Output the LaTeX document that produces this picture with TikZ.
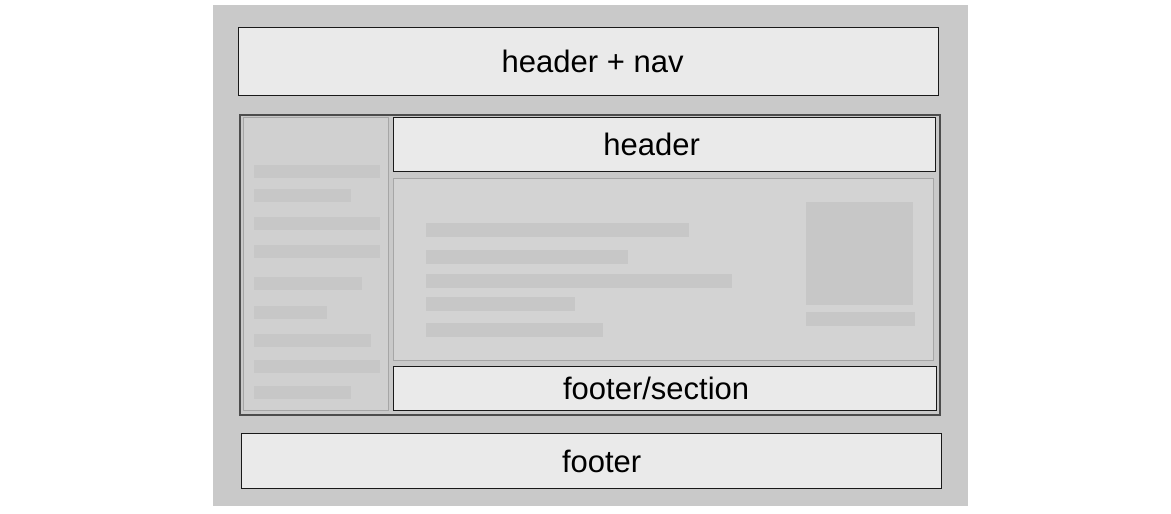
\documentclass[tikz,border=0pt]{standalone}
\usepackage{fontspec}
\setmainfont{Liberation Sans}
\definecolor{pagegray}{HTML}{C9C9C9}
\definecolor{boxgray}{HTML}{EAEAEA}
\definecolor{sidegray}{HTML}{D0D0D0}
\definecolor{maingray}{HTML}{D3D3D3}
\definecolor{bargray}{HTML}{C7C7C7}
\tikzset{
    region/.style={draw=black!90, line width=1.3pt, fill=boxgray, anchor=north west, inner sep=0pt},
    regiontext/.style={font=\fontsize{31}{36}\selectfont, inner sep=0pt},
    panel/.style={draw=black!35, line width=1pt, anchor=north west, inner sep=0pt},
    bar/.style={fill=bargray, draw=none}
}
\begin{document}
\begin{tikzpicture}[x=1pt,y=-1pt]
        \useasboundingbox (0,0) rectangle (1171,514);
        \fill[pagegray] (213,5) rectangle (968,506);

        \node[region, minimum width=700pt, minimum height=68pt] (hdrnav) at (238,27) {};
        \node[regiontext] (hdrnavtext) at ([xshift=4pt]hdrnav.center) {header + nav};

        % main area with sidebar and content
        \node[draw=black!70, line width=1.5pt, anchor=north west, minimum width=700pt, minimum height=300pt] (mainarea) at (239,114) {};
        \node[panel, fill=sidegray, minimum width=145pt, minimum height=293pt] (sidebar) at (243,117) {};
        \foreach \t/\e in {165/380, 189/351, 217/380, 245/380, 277/362, 306/327, 334/371, 360/380, 386/351}
            \fill[bar] (254,\t) rectangle (\e,\t+13);

        \node[region, minimum width=542pt, minimum height=54pt] (sechdr) at (393,117) {};
        \node[regiontext] (sechdrtext) at ([xshift=-13pt]sechdr.center) {header};

        \node[panel, fill=maingray, minimum width=540pt, minimum height=182pt] (content) at (393,178) {};
        \foreach \t/\e in {223/689, 250/628, 274/732, 297/575, 323/603}
            \fill[bar] (426,\t) rectangle (\e,\t+14);
        \fill[bar] (806,202) rectangle (913,305);
        \fill[bar] (806,312) rectangle (915,326);

        \node[region, minimum width=543pt, minimum height=44pt] (secftr) at (393,366) {};
        \node[regiontext] (secftrtext) at ([xshift=-9pt]secftr.center) {footer/section};

        \node[region, minimum width=700pt, minimum height=55pt] (ftr) at (241,433) {};
        \node[regiontext] (ftrtext) at ([xshift=10pt]ftr.center) {footer};
\end{tikzpicture}
\end{document}
